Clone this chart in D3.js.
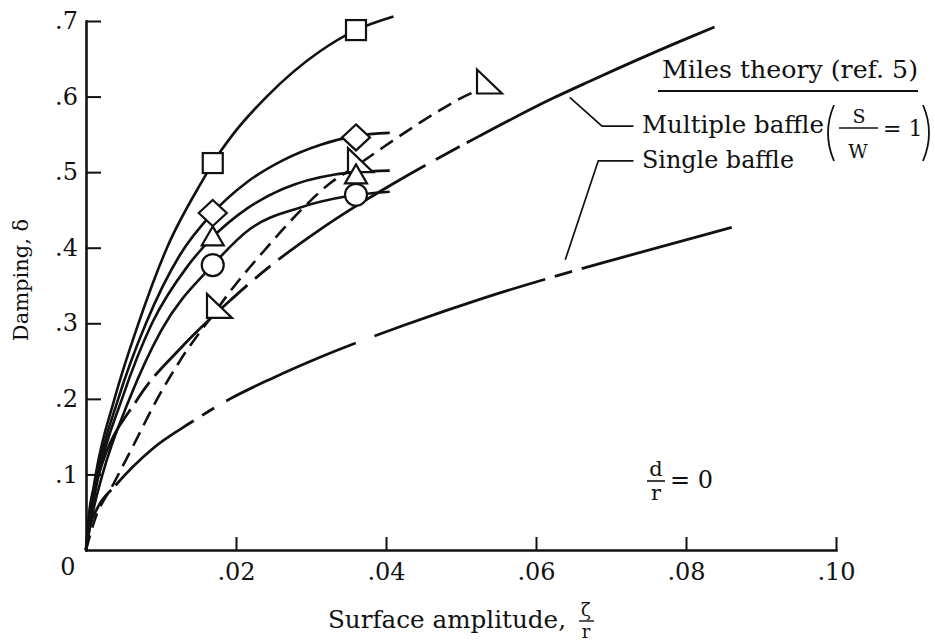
<!DOCTYPE html>
<html>
<head>
<meta charset="utf-8">
<script src="https://cdn.jsdelivr.net/npm/d3@7"></script>
<style>
  body { margin: 0; background: #fff; }
  svg { display: block; }
  text { font-family: "DejaVu Serif", "Liberation Serif", serif; fill: #111; }
</style>
</head>
<body>
<svg id="chart" width="935" height="642"></svg>
<script>
// ---- axis ticks ----
const xTicks = [0.02, 0.04, 0.06, 0.08, 0.10];
const xTickLabels = [".02", ".04", ".06", ".08", ".10"];
const yTicks = [0.1, 0.2, 0.3, 0.4, 0.5, 0.6, 0.7];
const yTickLabels = [".1", ".2", ".3", ".4", ".5", ".6", ".7"];

// ---- measured points (surface amplitude zeta/r, damping delta) ----
const squarePts   = [[0.0169, 0.512], [0.036, 0.688]];
const diamondPts  = [[0.0169, 0.446], [0.036, 0.546]];
const trianglePts = [[0.0169, 0.415], [0.036, 0.497]];
const circlePts   = [[0.0169, 0.377], [0.036, 0.470]];
const flagPts     = [[0.0172, 0.315], [0.036, 0.508], [0.0532, 0.612]];

// ---- faired curves through the data ----
const squareCurve = [[0, 0], [0.0004, 0.04], [0.0013, 0.1], [0.0038, 0.2], [0.0070, 0.3], [0.0108, 0.4],
  [0.0156, 0.490], [0.0169, 0.512], [0.0196, 0.550], [0.0241, 0.600], [0.0312, 0.660], [0.036, 0.688], [0.0410, 0.706]];
const diamondCurve = [[0, 0], [0.0004, 0.035], [0.0015, 0.1], [0.0043, 0.2], [0.0080, 0.3], [0.0125, 0.39],
  [0.0169, 0.446], [0.0215, 0.487], [0.0263, 0.516], [0.0312, 0.536], [0.036, 0.548], [0.0405, 0.552]];
const triangleCurve = [[0, 0], [0.0005, 0.035], [0.0017, 0.1], [0.0048, 0.2], [0.0088, 0.3], [0.0135, 0.375],
  [0.0169, 0.414], [0.0215, 0.452], [0.0263, 0.478], [0.0332, 0.497], [0.036, 0.500], [0.0405, 0.502]];
const circleCurve = [[0, 0], [0.0006, 0.035], [0.0022, 0.1], [0.0058, 0.2], [0.0100, 0.29], [0.0169, 0.377],
  [0.0219, 0.425], [0.0285, 0.453], [0.0348, 0.468], [0.0405, 0.474]];
const flagCurve = [[0, 0], [0.0010, 0.035], [0.0038, 0.09], [0.0063, 0.138], [0.0095, 0.2], [0.0125, 0.25],
  [0.0172, 0.315], [0.0196, 0.347], [0.0241, 0.400], [0.0285, 0.448], [0.0325, 0.485], [0.036, 0.508],
  [0.0392, 0.530], [0.0423, 0.551], [0.0472, 0.582], [0.0500, 0.598], [0.0532, 0.612]];

// ---- Miles theory (ref. 5) ----
const milesMultiple = [[0, 0], [0.0005, 0.055], [0.0017, 0.1], [0.0069, 0.2], [0.0129, 0.27], [0.0192, 0.33],
  [0.0241, 0.372], [0.0312, 0.424], [0.0355, 0.452], [0.0410, 0.485], [0.0525, 0.548], [0.0623, 0.598],
  [0.0671, 0.620], [0.0792, 0.673], [0.0838, 0.692]];
const milesSingle = [[0, 0], [0.0005, 0.03], [0.0015, 0.055], [0.0039, 0.085], [0.0090, 0.135], [0.0142, 0.170],
  [0.0192, 0.200], [0.0250, 0.228], [0.0312, 0.255], [0.0423, 0.297], [0.0532, 0.334], [0.0639, 0.366],
  [0.0703, 0.384], [0.0861, 0.427]];

// ---- callout leaders (data units) ----
const multipleLeader = [[0.0645, 0.599], [0.0688, 0.561], [0.0730, 0.561]];
const singleLeader   = [[0.0639, 0.384], [0.0683, 0.515], [0.0730, 0.515]];

const svg = d3.select("#chart");
const x = d3.scaleLinear().domain([0, 0.1]).range([86, 836]);
const y = d3.scaleLinear().domain([0, 0.7]).range([550, 21]);

const line = d3.line().x(d => x(d[0])).y(d => y(d[1])).curve(d3.curveMonotoneX);
const straight = d3.line().x(d => x(d[0])).y(d => y(d[1]));

// ---- axes ----
const yAxis = svg.append("g").attr("transform", `translate(${x(0)},0)`)
  .call(d3.axisLeft(y).tickValues(yTicks).tickFormat((d, i) => yTickLabels[i])
    .tickSizeInner(-15).tickSizeOuter(0).tickPadding(8));
const xAxis = svg.append("g").attr("transform", `translate(0,${y(0)})`)
  .call(d3.axisBottom(x).tickValues(xTicks).tickFormat((d, i) => xTickLabels[i])
    .tickSizeInner(-13).tickSizeOuter(0).tickPadding(13));
[yAxis, xAxis].forEach(g => {
  g.select(".domain").attr("stroke", "#111").attr("stroke-width", 2.6).attr("stroke-linecap", "square");
  g.selectAll(".tick line").attr("stroke", "#111").attr("stroke-width", 2);
  g.selectAll(".tick text").attr("font-family", "DejaVu Serif").attr("font-size", 24).attr("fill", "#111");
});
svg.append("text").attr("x", 68).attr("y", 575).attr("text-anchor", "middle")
  .attr("font-size", 24).text("0");

// ---- curves ----
const curves = svg.append("g").attr("fill", "none").attr("stroke", "#111").attr("stroke-linecap", "butt");
curves.append("path").attr("d", line(milesSingle)).attr("stroke-width", 2.8)
  .attr("stroke-dasharray", "67 6 102 10 14 14 142 20 180 10 18 10 220");
curves.append("path").attr("d", line(milesMultiple)).attr("stroke-width", 2.8)
  .attr("stroke-dasharray", "150 8 25 8 130 10 20 10 175 12 27 8 300");
curves.append("path").attr("d", line(flagCurve)).attr("stroke-width", 2.6)
  .attr("stroke-dasharray", "15 8");
[squareCurve, diamondCurve, triangleCurve, circleCurve].forEach(c =>
  curves.append("path").attr("d", line(c)).attr("stroke-width", 2.6));

// ---- leaders ----
svg.append("path").attr("d", straight(multipleLeader)).attr("fill", "none").attr("stroke", "#111").attr("stroke-width", 1.7);
svg.append("path").attr("d", straight(singleLeader)).attr("fill", "none").attr("stroke", "#111").attr("stroke-width", 1.7);

// ---- markers ----
const marks = svg.append("g").attr("fill", "#fff").attr("stroke", "#111").attr("stroke-width", 2.2);
marks.selectAll(".flag").data(flagPts).join("path").attr("class", "flag")
  .attr("d", d => `M${x(d[0]) - 8},${y(d[1]) - 18}L${x(d[0]) - 8},${y(d[1]) + 6}L${x(d[0]) + 17},${y(d[1]) + 6}Z`);
marks.selectAll(".circ").data(circlePts).join("circle").attr("class", "circ")
  .attr("cx", d => x(d[0])).attr("cy", d => y(d[1])).attr("r", 11);
marks.selectAll(".tri").data(trianglePts).join("path").attr("class", "tri")
  .attr("d", d => `M${x(d[0])},${y(d[1]) - 10}L${x(d[0]) + 11},${y(d[1]) + 9}L${x(d[0]) - 11},${y(d[1]) + 9}Z`);
marks.selectAll(".dia").data(diamondPts).join("path").attr("class", "dia")
  .attr("d", d => `M${x(d[0])},${y(d[1]) - 13}L${x(d[0]) + 14},${y(d[1])}L${x(d[0])},${y(d[1]) + 13}L${x(d[0]) - 14},${y(d[1])}Z`);
marks.selectAll(".sq").data(squarePts).join("rect").attr("class", "sq")
  .attr("x", d => x(d[0]) - 10).attr("y", d => y(d[1]) - 10).attr("width", 20).attr("height", 20);

// ---- legend ----
svg.append("text").attr("x", 662).attr("y", 78).attr("font-size", 24)
  .attr("textLength", 256).attr("lengthAdjust", "spacingAndGlyphs").text("Miles theory (ref. 5)");
svg.append("line").attr("x1", 658).attr("x2", 918).attr("y1", 91).attr("y2", 91)
  .attr("stroke", "#111").attr("stroke-width", 2);
svg.append("text").attr("x", 642).attr("y", 133).attr("font-size", 24)
  .attr("textLength", 182).attr("lengthAdjust", "spacingAndGlyphs").text("Multiple baffle");
svg.append("text").attr("x", 642).attr("y", 168).attr("font-size", 24)
  .attr("textLength", 152).attr("lengthAdjust", "spacingAndGlyphs").text("Single baffle");
// (S/W = 1)
const paren = svg.append("g").attr("fill", "none").attr("stroke", "#111").attr("stroke-width", 1.8);
paren.append("path").attr("d", "M834,105Q822,133 834,161");
paren.append("path").attr("d", "M923,105Q935,133 923,161");
svg.append("text").attr("x", 859).attr("y", 123).attr("text-anchor", "middle").attr("font-size", 19).text("S");
svg.append("line").attr("x1", 839).attr("x2", 878).attr("y1", 128).attr("y2", 128).attr("stroke", "#111").attr("stroke-width", 1.6);
svg.append("text").attr("x", 858).attr("y", 158).attr("text-anchor", "middle").attr("font-size", 19).text("W");
svg.append("text").attr("x", 883).attr("y", 136).attr("font-size", 22).text("= 1");

// ---- d/r = 0 ----
svg.append("text").attr("x", 656).attr("y", 476).attr("text-anchor", "middle").attr("font-size", 21).text("d");
svg.append("line").attr("x1", 647).attr("x2", 665).attr("y1", 481).attr("y2", 481).attr("stroke", "#111").attr("stroke-width", 1.6);
svg.append("text").attr("x", 656).attr("y", 500).attr("text-anchor", "middle").attr("font-size", 21).text("r");
svg.append("text").attr("x", 670).attr("y", 488).attr("font-size", 24).text("= 0");

// ---- axis titles ----
svg.append("text").attr("transform", "translate(28,280) rotate(-90)").attr("text-anchor", "middle")
  .attr("font-size", 21).text("Damping, δ");
svg.append("text").attr("x", 328).attr("y", 628).attr("font-size", 24)
  .attr("textLength", 238).attr("lengthAdjust", "spacingAndGlyphs").text("Surface amplitude,");
svg.append("text").attr("x", 586).attr("y", 616).attr("text-anchor", "middle").attr("font-size", 18).text("ζ");
svg.append("line").attr("x1", 579).attr("x2", 594).attr("y1", 621).attr("y2", 621).attr("stroke", "#111").attr("stroke-width", 1.4);
svg.append("text").attr("x", 586).attr("y", 638).attr("text-anchor", "middle").attr("font-size", 18).text("r");
</script>
</body>
</html>
